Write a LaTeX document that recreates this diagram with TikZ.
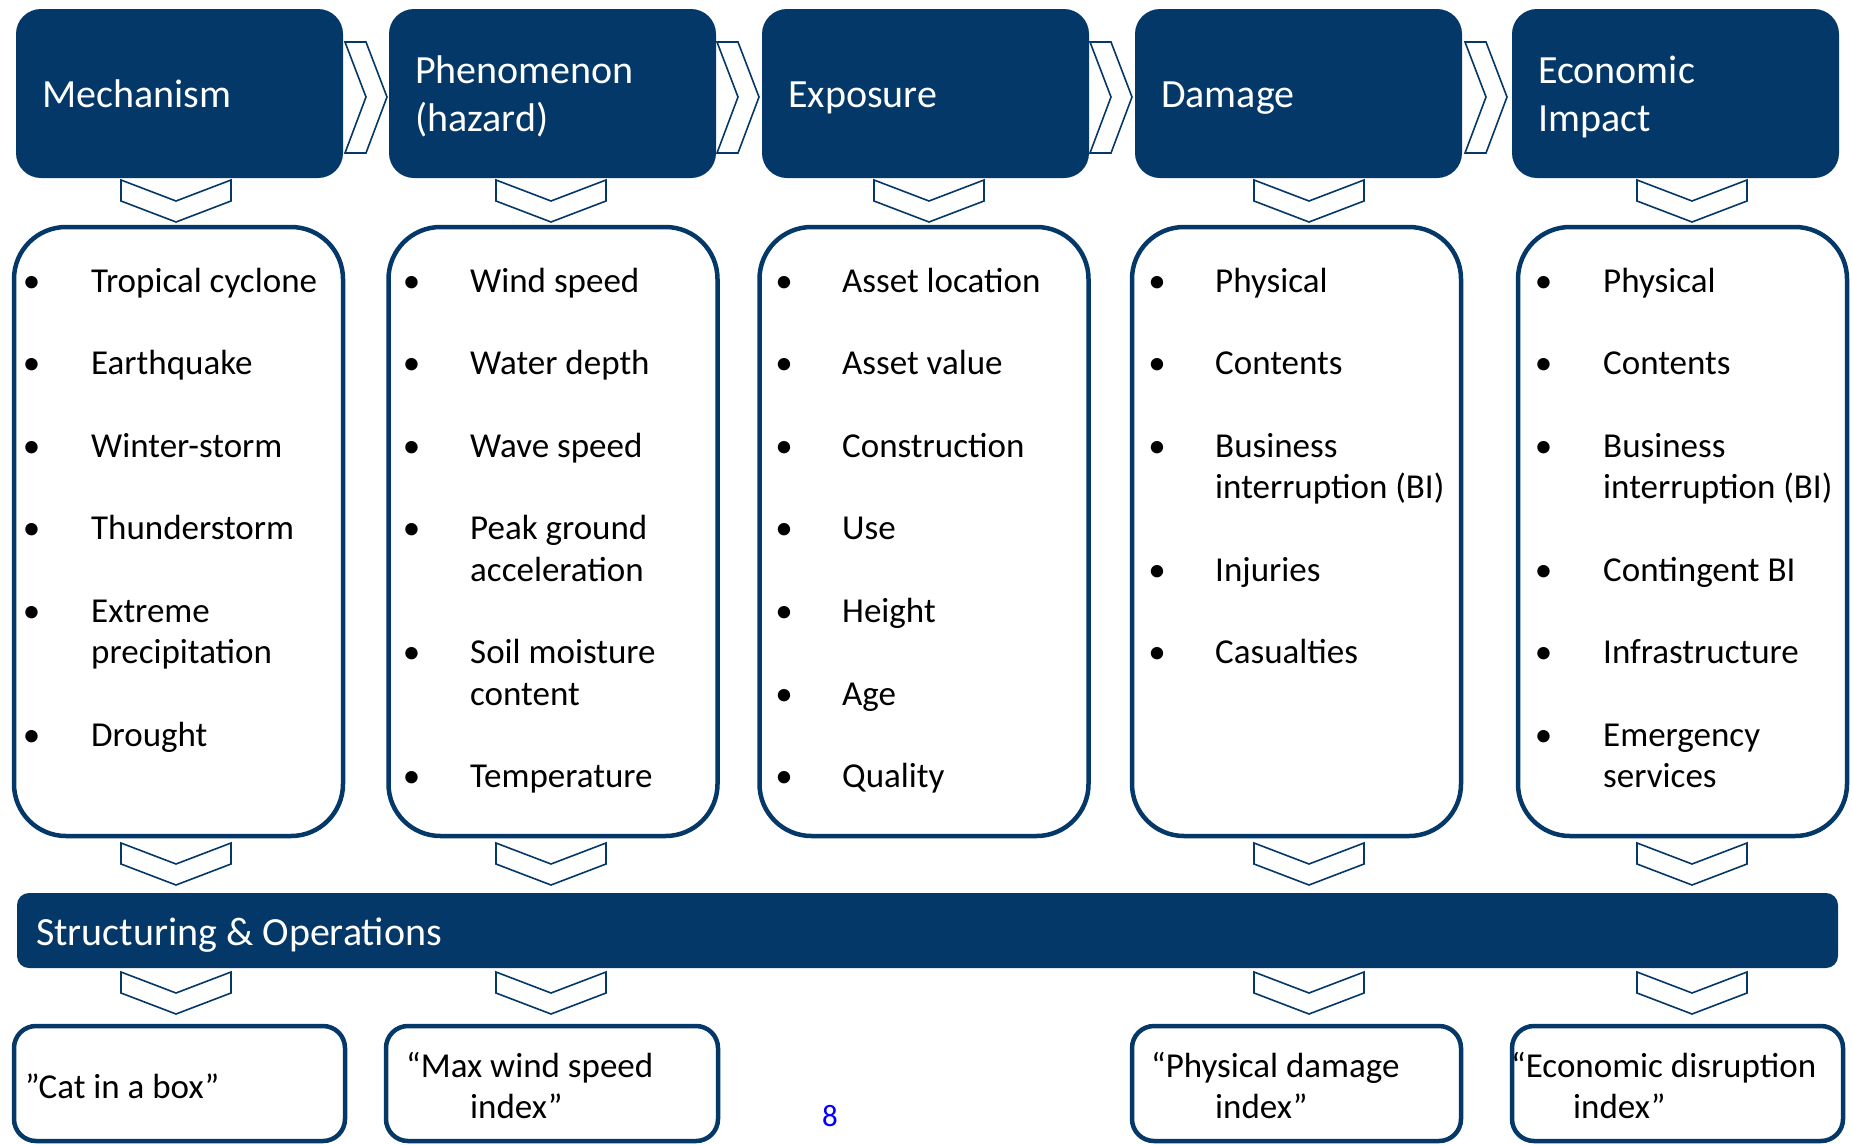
\documentclass[tikz,border=0pt]{standalone}
\usepackage{fontspec}
\setmainfont{Carlito}
\usepackage{xcolor}
\usepackage{tikz}
\usetikzlibrary{positioning}

\definecolor{navy}{RGB}{3,56,105}
\definecolor{pageblue}{RGB}{0,0,255}

\tikzset{
  down chevron/.pic={\draw[chev] (-55,0) -- (0,21) -- (55,0) -- (55,21) -- (0,42) -- (-55,21) -- cycle;},
  right chevron/.pic={\draw[chev] (0,0) -- (21,55) -- (0,111) -- (21,111) -- (42,55) -- (21,0) -- cycle;}
}

\begin{document}
\begin{tikzpicture}[x=1pt,y=-1pt]
\tikzstyle{headbox}=[fill=navy,rounded corners=25pt,minimum width=327pt,minimum height=169pt,inner sep=0pt]
\tikzstyle{listbox}=[draw=navy,line width=4.5pt,rounded corners=52pt,minimum width=329pt,minimum height=609pt,inner sep=0pt]
\tikzstyle{outbox}=[draw=navy,line width=4.5pt,rounded corners=22pt,minimum height=115pt,inner sep=0pt]
\tikzstyle{headtext}=[anchor=base west,inner sep=0pt,text=white,font=\fontsize{40}{48}\selectfont]
\tikzstyle{listitem}=[anchor=base west,inner sep=0pt,font=\fontsize{35}{41}\selectfont]
\tikzstyle{bulletdot}=[anchor=base,inner sep=0pt,font=\fontsize{35}{41}\selectfont]
\tikzstyle{chev}=[draw=navy,fill=white,line width=1.6pt,line join=miter]

\path[use as bounding box,fill=white] (0,0) rectangle (1852,1144);

% top row
\node[headbox](mech) at (179.5,93.5) {};
\node[headbox](phen) at (552.5,93.5) {};
\node[headbox](expo) at (925.5,93.5) {};
\node[headbox](dmg) at (1298.5,93.5) {};
\node[headbox](econ) at (1675.5,93.5) {};
\node[headtext](mech-t) at (42,107) {Mechanism};
\node[headtext](phen-t1) at (415,83) {Phenomenon};
\node[headtext](phen-t2) at (415,131) {(hazard)};
\node[headtext](expo-t) at (788,107) {Exposure};
\node[headtext](dmg-t) at (1161,107) {Damage};
\node[headtext](econ-t1) at (1538,83) {Economic};
\node[headtext](econ-t2) at (1538,131) {Impact};

\pic at (345,42) {right chevron};
\pic at (717,42) {right chevron};
\pic at (1090,42) {right chevron};
\pic at (1465,42) {right chevron};

\foreach \cx in {176,551,929,1309,1692}
  \pic at (\cx,180) {down chevron};

% lists
\node[listbox](mechlist) at (178.5,531.5) {};
\node[listbox](phenlist) at (553,531.5) {};
\node[listbox](expolist) at (924,531.5) {};
\node[listbox](dmglist) at (1296.5,531.5) {};
\node[listbox](econlist) at (1682.5,531.5) {};

\foreach \row/\txt [count=\i] in {0/Tropical cyclone,2/Earthquake,4/Winter-storm,6/Thunderstorm,8/Extreme,11/Drought}{
  \node[bulletdot](mech-b\i) at (31.5,292+41.3*\row) {•};
  \node[listitem](mech-\i) at (91,292+41.3*\row) {\txt};
}
\node[listitem](mech-5x) at (91,292+41.3*9) {precipitation};

\foreach \row/\txt [count=\i] in {0/Wind speed,2/Water depth,4/Wave speed,6/Peak ground,9/Soil moisture,12/Temperature}{
  \node[bulletdot](phen-b\i) at (411.5,292+41.3*\row) {•};
  \node[listitem](phen-\i) at (470,292+41.3*\row) {\txt};
}
\node[listitem](phen-4x) at (470,292+41.3*7) {acceleration};
\node[listitem](phen-5x) at (470,292+41.3*10) {content};

\foreach \row/\txt [count=\i] in {0/Asset location,2/Asset value,4/Construction,6/Use,8/Height,10/Age,12/Quality}{
  \node[bulletdot](expo-b\i) at (784,292+41.3*\row) {•};
  \node[listitem](expo-\i) at (842,292+41.3*\row) {\txt};
}

\foreach \row/\txt [count=\i] in {0/Physical,2/Contents,4/Business,7/Injuries,9/Casualties}{
  \node[bulletdot](dmg-b\i) at (1157,292+41.3*\row) {•};
  \node[listitem](dmg-\i) at (1215,292+41.3*\row) {\txt};
}
\node[listitem](dmg-3x) at (1215,292+41.3*5) {interruption (BI)};

\foreach \row/\txt [count=\i] in {0/Physical,2/Contents,4/Business,7/Contingent BI,9/Infrastructure,11/Emergency}{
  \node[bulletdot](econ-b\i) at (1543.5,292+41.3*\row) {•};
  \node[listitem](econ-\i) at (1603,292+41.3*\row) {\txt};
}
\node[listitem](econ-3x) at (1603,292+41.3*5) {interruption (BI)};
\node[listitem](econ-6x) at (1603,292+41.3*12) {services};

\foreach \cx in {176,551,1309,1692}{
  \pic at (\cx,843) {down chevron};
  \pic at (\cx,972) {down chevron};
}

% structuring bar
\node[fill=navy,rounded corners=12pt,minimum width=1821pt,minimum height=75pt,inner sep=0pt](ops) at (927.5,930.5) {};
\node[headtext](ops-t) at (36,945) {Structuring \& Operations};

% outputs
\node[outbox,minimum width=331pt](mechout) at (179.5,1083.5) {};
\node[outbox,minimum width=332pt](phenout) at (552,1083.5) {};
\node[outbox,minimum width=329pt](dmgout) at (1296.5,1083.5) {};
\node[outbox,minimum width=331pt](econout) at (1677.5,1083.5) {};
\node[listitem](mechout-t) at (25,1098) {”Cat in a box”};
\node[listitem](phenout-t1) at (406,1077) {“Max wind speed};
\node[listitem](phenout-t2) at (470,1118) {index”};
\node[listitem](dmgout-t1) at (1151,1077) {“Physical damage};
\node[listitem](dmgout-t2) at (1215,1118) {index”};
\node[listitem](econout-t1) at (1511,1077) {“Economic disruption};
\node[listitem](econout-t2) at (1573,1118) {index”};

\node[anchor=base,inner sep=0pt,text=pageblue,font=\fontsize{31}{37}\selectfont](pagenum) at (830,1126) {8};
\end{tikzpicture}
\end{document}
